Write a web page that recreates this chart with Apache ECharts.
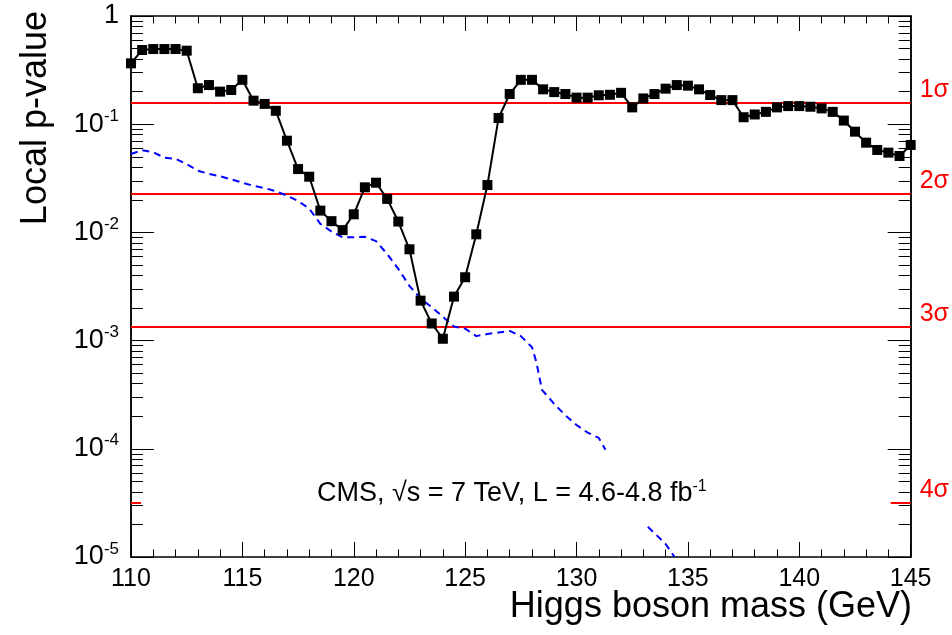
<!DOCTYPE html>
<html>
<head>
<meta charset="utf-8">
<script src="https://cdn.jsdelivr.net/npm/echarts@6.0.0/dist/echarts.min.js"></script>
<style>
  html, body { margin: 0; padding: 0; background: #fff; }
  #chart { width: 952px; height: 635px; }
</style>
</head>
<body>
<div id="chart"></div>
<script>
// Higgs mass points (GeV), 0.5 GeV steps
var masses = [];
for (var m = 110; m <= 145.001; m += 0.5) masses.push(Math.round(m * 10) / 10);

// observed local p-value (black squares)
var observed = [
  0.365, 0.485, 0.495, 0.495, 0.495, 0.478, 0.215, 0.23, 0.20, 0.207,
  0.257, 0.165, 0.154, 0.133, 0.0704, 0.0385, 0.0327, 0.0159, 0.0127, 0.0105,
  0.0147, 0.0261, 0.0288, 0.0204, 0.0126, 0.00698, 0.00234, 0.00144, 0.00104, 0.00255,
  0.00385, 0.0096, 0.0274, 0.114, 0.19, 0.257, 0.257, 0.21, 0.198, 0.19,
  0.176, 0.176, 0.185, 0.187, 0.195, 0.143, 0.173, 0.19, 0.213, 0.23,
  0.227, 0.21, 0.186, 0.167, 0.167, 0.116, 0.123, 0.13, 0.143, 0.147,
  0.147, 0.145, 0.14, 0.13, 0.108, 0.0853, 0.0675, 0.0578, 0.0546, 0.0508,
  0.0643
];

// expected local p-value (blue dashed); null marks the gap under the label
var expMass = [
  110, 110.5, 111, 111.5, 112, 112.5, 113, 113.5, 114, 114.5,
  115, 115.5, 116, 116.5, 117, 117.5, 118, 118.5, 119, 119.5,
  120, 120.5, 121, 121.5, 122, 122.5, 123, 123.5, 124, 124.5,
  125, 125.5, 126, 126.5, 127, 127.5, 128, 128.2, 128.45, 129,
  129.5, 130, 130.5, 131, 131.3, 132.2, 133.2, 133.5, 134, 134.4
];
var expected = [
  0.0531, 0.0575, 0.0550, 0.0490, 0.0479, 0.0427, 0.0372, 0.0347, 0.0331, 0.0309,
  0.0288, 0.0269, 0.0257, 0.0240, 0.0219, 0.0195, 0.0166, 0.0120, 0.0102, 0.0090,
  0.0090, 0.0091, 0.0083, 0.0063, 0.0046, 0.0032, 0.00245, 0.00204, 0.00166, 0.00135,
  0.00129, 0.00110, 0.00115, 0.00119, 0.00123, 0.00110, 0.00087, 0.00063, 0.00035, 0.00026,
  0.000204, 0.000166, 0.000141, 0.000126, 0.000098, null, 0.000019, 0.0000166, 0.0000132, 0.00001
];

// significance reference levels
var sigmaNames = ['1σ', '2σ', '3σ', '4σ'];
var sigmaP = [0.1587, 0.02275, 0.00135, 0.0000317];

var xTicks = [110, 115, 120, 125, 130, 135, 140, 145];
var yTicks = [1e-5, 1e-4, 1e-3, 1e-2, 1e-1, 1];
var yMinor = [];
for (var e = -5; e < 0; e++) for (var k = 2; k <= 9; k++) yMinor.push(k * Math.pow(10, e));

var FONT = '"Liberation Sans", Arial, Helvetica, sans-serif';
var RED = '#ff0000';

var chart = echarts.init(document.getElementById('chart'), null, {renderer: 'canvas'});

function yLabel(v) {
  var n = Math.round(Math.log10(v));
  if (n === 0) return '{b|1}';
  return '{b|10}{s|' + n + '}';
}

function sigmaLabel(v) {
  for (var i = 0; i < sigmaP.length; i++) {
    if (Math.abs(Math.log10(v) - Math.log10(sigmaP[i])) < 0.01) return sigmaNames[i];
  }
  return '';
}

// red significance lines: full width for 1-3 sigma, short stubs for 4 sigma
var sigmaLines = [];
for (var i = 0; i < 3; i++) {
  sigmaLines.push([{coord: [110, sigmaP[i]]}, {coord: [145, sigmaP[i]]}]);
}
sigmaLines.push([{coord: [110, sigmaP[3]]}, {coord: [110.45, sigmaP[3]]}]);
sigmaLines.push([{coord: [144.1, sigmaP[3]]}, {coord: [145, sigmaP[3]]}]);

function xAxisDef(pos, labels) {
  return {
    type: 'value', position: pos, min: 110, max: 145, interval: 5,
    axisLine: {show: true, onZero: false, lineStyle: {color: '#000', width: 1.5}},
    axisTick: {show: true, inside: true, length: 15, lineStyle: {color: '#000', width: 1}},
    minorTick: {show: true, splitNumber: 5, length: 7.5, lineStyle: {color: '#000', width: 1}},
    axisLabel: {show: labels, margin: 10, color: '#000', fontSize: 25, fontFamily: FONT},
    splitLine: {show: false}
  };
}

function yAxisDef(pos, ticks, len) {
  return {
    type: 'log', logBase: 10, position: pos, min: 1e-5, max: 1,
    axisLine: {show: true, onZero: false, lineStyle: {color: '#000', width: 1.5}},
    axisTick: {show: true, inside: true, length: len, customValues: ticks,
      lineStyle: {color: '#000', width: 1}},
    axisLabel: {show: false},
    splitLine: {show: false},
    minorTick: {show: false}
  };
}

var yLeft = yAxisDef('left', yTicks, 23);
yLeft.axisLabel = {
  show: true, customValues: yTicks, margin: 12, formatter: yLabel,
  rich: {
    b: {fontSize: 27, fontFamily: FONT, color: '#000'},
    s: {fontSize: 17, fontFamily: FONT, color: '#000', verticalAlign: 'top', padding: [0, 0, 16, 0]}
  }
};
var yRight = yAxisDef('right', yTicks, 23);
yRight.axisLabel = {
  show: true, customValues: sigmaP, margin: 9, formatter: sigmaLabel,
  color: RED, fontSize: 25, fontFamily: FONT, verticalAlign: 'bottom'
};

var option = {
  animation: false,
  backgroundColor: '#fff',
  grid: {left: 131, right: 39, top: 16, bottom: 78, containLabel: false},
  xAxis: [xAxisDef('bottom', true), xAxisDef('top', false)],
  yAxis: [
    yLeft,
    yAxisDef('left', yMinor, 12),
    yRight,
    yAxisDef('right', yMinor, 12)
  ],
  graphic: [
    {
      type: 'text', x: 912, y: 607,
      style: {text: 'Higgs boson mass (GeV)', font: '36px ' + FONT, fill: '#000',
        textAlign: 'right', textVerticalAlign: 'middle'}
    },
    {
      type: 'text', x: 36, y: 11, rotation: Math.PI / 2,
      style: {text: 'Local p-value', font: '36px ' + FONT, fill: '#000',
        textAlign: 'right', textVerticalAlign: 'middle'}
    },
    {
      type: 'text', x: 317, y: 494,
      style: {
        text: '{t|CMS, √s = 7 TeV, L = 4.6-4.8 fb}{s|-1}',
        textVerticalAlign: 'middle',
        rich: {
          t: {font: '27px ' + FONT, fill: '#000'},
          s: {font: '16px ' + FONT, fill: '#000', verticalAlign: 'top', padding: [0, 0, 14, 0]}
        }
      }
    }
  ],
  series: [
    {
      name: 'expected', type: 'line', xAxisIndex: 0, yAxisIndex: 0,
      data: expMass.map(function (x, i) { return [x, expected[i]]; }),
      symbol: 'none', showSymbol: false, connectNulls: false, smooth: false,
      lineStyle: {color: '#0000ff', width: 2, type: [7, 5]},
      z: 3
    },
    {
      name: 'observed', type: 'line', xAxisIndex: 0, yAxisIndex: 0,
      data: masses.map(function (x, i) { return [x, observed[i]]; }),
      symbol: 'rect', symbolSize: 10,
      itemStyle: {color: '#000'},
      lineStyle: {color: '#000', width: 2},
      z: 4,
      markLine: {
        silent: true, symbol: 'none', animation: false,
        lineStyle: {color: RED, width: 2, type: 'solid'},
        label: {show: false},
        data: sigmaLines,
        z: 2
      }
    }
  ]
};

chart.setOption(option);
</script>
</body>
</html>
